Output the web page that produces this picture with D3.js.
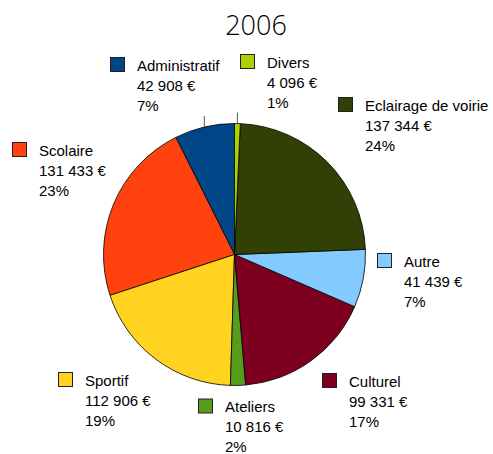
<!DOCTYPE html>
<html>
<head>
<meta charset="utf-8">
<title>2006</title>
<script src="https://d3js.org/d3.v7.min.js"></script>
<style>
  body { margin: 0; background: #fff; }
  .lbl text { font: 15px "Liberation Sans", Arial, sans-serif; fill: #000; }
  .title { font: 300 27px "Open Sans", "Liberation Sans", sans-serif; fill: #000; }
</style>
</head>
<body>
<script>
// data, in the order LibreOffice stores it (drawn counter-clockwise from 12 o'clock)
var categories = ["Administratif", "Scolaire", "Sportif", "Ateliers", "Culturel", "Autre", "Eclairage de voirie", "Divers"];
var values = [42908, 131433, 112906, 10816, 99331, 41439, 137344, 4096];
var colors = ["#004586", "#ff420e", "#ffd320", "#579d1c", "#7e0021", "#83caff", "#314004", "#aecf00"];
var title = "2006";

// where each label block sits (legend square top-left)
var labelPos = [[110, 57], [12, 142], [58, 372], [198, 398.5], [322, 373], [377, 253], [338, 97], [240, 54]];
// slices that get a small leader line
var leaders = ["Administratif", "Divers"];

var width = 493, height = 454;
var cx = 234.5, cy = 254.5, radius = 131;

var svg = d3.select("body").append("svg")
    .attr("width", width)
    .attr("height", height);

svg.append("text")
    .attr("class", "title")
    .attr("x", 256)
    .attr("y", 35)
    .attr("text-anchor", "middle")
    .text(title);

var total = d3.sum(values);
var locale = d3.formatLocale({decimal: ",", thousands: " ", grouping: [3], currency: ["", " €"]});
var fmtVal = locale.format(",d");
var fmtPct = d3.format(".0%");

var pie = d3.pie()
    .sort(null)
    .startAngle(0)
    .endAngle(-2 * Math.PI);

var arc = d3.arc().innerRadius(0).outerRadius(radius);

var arcs = pie(values);

var g = svg.append("g").attr("transform", "translate(" + cx + "," + cy + ")");

g.selectAll("path.slice")
  .data(arcs)
  .enter().append("path")
    .attr("class", "slice")
    .attr("d", arc)
    .attr("fill", function(d, i) { return colors[i]; })
    .attr("stroke", "#000")
    .attr("stroke-width", 0.8)
    .attr("stroke-linejoin", "round");

// leader lines (vertical, from the edge at the slice middle)
arcs.forEach(function(d, i) {
  if (leaders.indexOf(categories[i]) < 0) return;
  var a = (d.startAngle + d.endAngle) / 2;
  var x = radius * Math.sin(a), y = -radius * Math.cos(a);
  g.append("line")
    .attr("x1", x).attr("y1", y)
    .attr("x2", x).attr("y2", y - 11)
    .attr("stroke", "#555")
    .attr("stroke-width", 1);
});

// labels
var lbl = svg.selectAll("g.lbl")
  .data(categories)
  .enter().append("g")
    .attr("class", "lbl")
    .attr("transform", function(d, i) { return "translate(" + labelPos[i][0] + "," + labelPos[i][1] + ")"; });

lbl.append("rect")
    .attr("x", 0.5).attr("y", 0.5)
    .attr("width", 14).attr("height", 14)
    .attr("fill", function(d, i) { return colors[i]; })
    .attr("stroke", "#222")
    .attr("stroke-width", 1);

lbl.each(function(d, i) {
  var lines = [d, fmtVal(values[i]) + " €", fmtPct(values[i] / total)];
  d3.select(this).selectAll("text")
    .data(lines)
    .enter().append("text")
      .attr("x", 27)
      .attr("y", function(t, j) { return 13.5 + j * 20; })
      .text(function(t) { return t; });
});
</script>
</body>
</html>
